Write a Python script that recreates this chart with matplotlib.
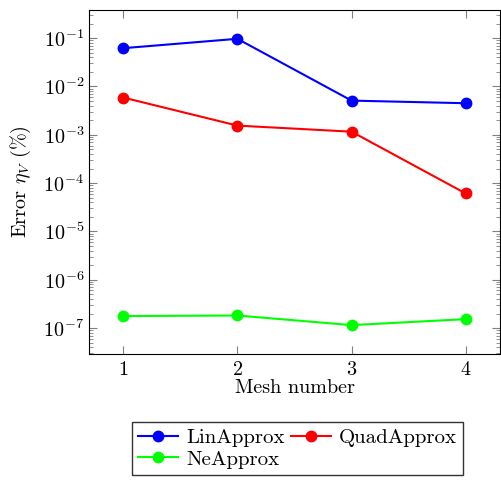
import numpy as np
import matplotlib
matplotlib.use("Agg")
import matplotlib.pyplot as plt

plt.rcParams['font.family'] = 'serif'
plt.rcParams['font.serif'] = ['cmr10']
plt.rcParams['mathtext.fontset'] = 'cm'
plt.rcParams['axes.formatter.use_mathtext'] = True

mesh = [1, 2, 3, 4]
lin_approx = [0.062, 0.097, 0.0051, 0.0045]
quad_approx = [0.0059, 0.00155, 0.00116, 6.1e-5]
ne_approx = [1.77e-7, 1.82e-7, 1.15e-7, 1.53e-7]

fig = plt.figure(figsize=(5.01, 4.83), dpi=100)
ax = fig.add_axes([0.1776, 0.267, 0.8204, 0.712])

l1, = ax.plot(mesh, lin_approx, '-o', color=(0, 0, 1), lw=1.5, ms=7.5, label='LinApprox')
l2, = ax.plot(mesh, quad_approx, '-o', color=(1, 0, 0), lw=1.5, ms=7.5, label='QuadApprox')
l3, = ax.plot(mesh, ne_approx, '-o', color=(0, 1, 0), lw=1.5, ms=7.5, label='NeApprox')

ax.set_yscale('log')
ax.set_xlim(0.7, 4.3)
ax.set_ylim(2.9e-8, 0.38)
ax.set_xticks(mesh)
ax.set_yticks([1e-7, 1e-6, 1e-5, 1e-4, 1e-3, 1e-2, 1e-1])
ax.yaxis.set_minor_locator(matplotlib.ticker.LogLocator(base=10, subs=np.arange(2, 10)))
ax.yaxis.set_minor_formatter(matplotlib.ticker.NullFormatter())

ax.tick_params(which='both', direction='in', top=True, right=True,
               color='#808080', labelsize=14.5)
ax.tick_params(which='major', length=6)
ax.tick_params(which='minor', length=3)
ax.tick_params(axis='x', pad=5)

ax.set_xlabel('Mesh number', fontsize=14.5, labelpad=0)
ax.set_ylabel(r'Error $\eta_V$ (%)', fontsize=14.5, labelpad=7)

# row-wise order: Lin, Quad / Ne
leg = fig.legend([l1, l3, l2], ['LinApprox', 'NeApprox', 'QuadApprox'],
                 loc='upper center', bbox_to_anchor=(0.594, 0.126), ncol=2,
                 fontsize=15, frameon=True, fancybox=False, edgecolor='black',
                 handlelength=1.9, handletextpad=0.4, columnspacing=0.3,
                 borderpad=0.3, labelspacing=0.15, borderaxespad=0)
leg.get_frame().set_linewidth(1.0)

fig.savefig('out.png', dpi=100)
